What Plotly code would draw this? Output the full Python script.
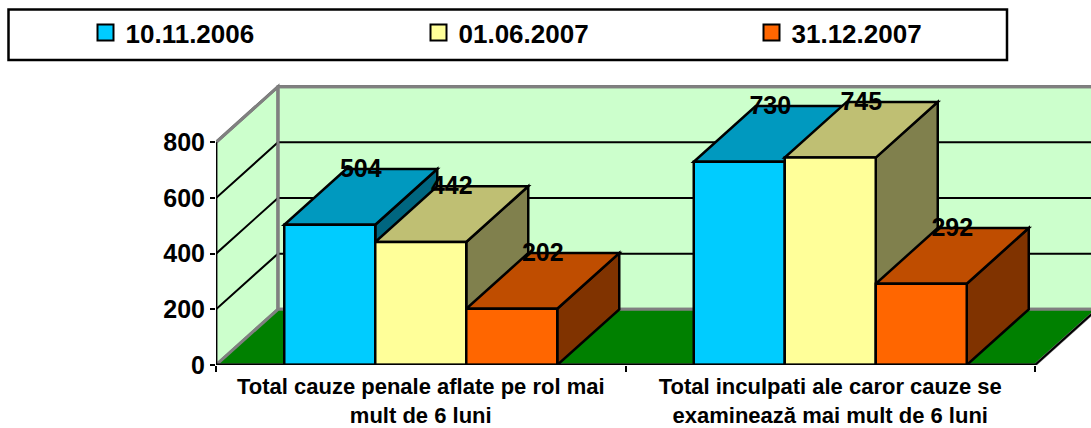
import plotly.graph_objects as go

categories = ["Total cauze penale aflate pe rol mai<br>mult de 6 luni",
              "Total inculpati ale caror cauze se<br>examinează mai mult de 6 luni"]
series_names = ["10.11.2006", "01.06.2007", "31.12.2007"]
values_a = [504, 730]
values_b = [442, 745]
values_c = [202, 292]
series_values = [values_a, values_b, values_c]
front = ["#00CCFF", "#FFFF99", "#FF6600"]
top = ["#0099BF", "#BFBF73", "#BF4D00"]
side = ["#006680", "#80804D", "#803300"]
y_ticks = [0, 200, 400, 600, 800]

FONT = "Liberation Sans"
W, H = 1091, 428
L, B_PX, T = 216, 365, 70
PX_X = 409.5
PX_Y = 222.7 / 800
DX, DY = 62 / PX_X, 200
BW = 91 / PX_X
xmax = (W - L) / PX_X
ymax = (B_PX - T) / PX_Y
centers = [0.5, 1.5]


def poly(pts, fill=None, color="black", width=2):
    path = "M" + " L".join(f"{x},{y}" for x, y in pts) + (" Z" if fill else "")
    return dict(type="path", path=path, xref="x", yref="y", layer="below",
                fillcolor=fill or "rgba(0,0,0,0)",
                line=dict(color=color, width=width))


shapes = []
# walls and floor
shapes.append(poly([(0, 0), (0, 800), (DX, 800 + DY), (DX, DY)], "#CCFFCC", "#808080", 3))
shapes.append(poly([(DX, DY), (DX, 800 + DY), (2 + DX, 800 + DY), (2 + DX, DY)], "#CCFFCC", "#808080", 3))
shapes.append(poly([(0, 0), (2, 0), (2 + DX, DY), (DX, DY)], "#008000", "#808080", 3))
shapes.append(poly([(2, 0), (2 + DX, DY)], None, "black", 2))
# gridlines
for t in y_ticks[1:-1] + [800]:
    shapes.append(poly([(0, t), (DX, t + DY), (2 + DX, t + DY)], None, "black", 2))
shapes.append(poly([(0, 800), (DX, 800 + DY), (2 + DX, 800 + DY)], None, "#808080", 3))
shapes.append(poly([(DX, DY), (DX, 800 + DY)], None, "#808080", 3))
# depth faces of the bars, painted left to right
for g, c in enumerate(centers):
    for i, vals in enumerate(series_values):
        x0 = c - 1.5 * BW + i * BW
        x1 = x0 + BW
        v = vals[g]
        shapes.append(poly([(x1, 0), (x1, v), (x1 + DX, v + DY), (x1 + DX, DY)], side[i], "black", 2.5))
        shapes.append(poly([(x0, v), (x1, v), (x1 + DX, v + DY), (x0 + DX, v + DY)], top[i], "black", 2.5))

# legend frame
px = lambda p: (p - L) / (W - L)
py = lambda p: (B_PX - p) / (B_PX - T)
shapes.append(dict(type="rect", xref="paper", yref="paper",
                   x0=px(8.5), x1=px(1007), y0=py(60), y1=py(9.5),
                   fillcolor="white", line=dict(color="black", width=2.5)))

fig = go.Figure()
for i, name in enumerate(series_names):
    fig.add_trace(go.Bar(x=centers, y=series_values[i], width=BW,
                         offset=-1.5 * BW + i * BW, name=name, showlegend=False,
                         marker=dict(color=front[i], line=dict(color="black", width=2.5))))
# axis lines
fig.add_trace(go.Scatter(x=[0, 0], y=[0, 800], mode="lines", showlegend=False, hoverinfo="skip",
                         line=dict(color="black", width=2.5), cliponaxis=False))
fig.add_trace(go.Scatter(x=[0, 2], y=[0, 0], mode="lines", showlegend=False, hoverinfo="skip",
                         line=dict(color="black", width=3), cliponaxis=False))
# value labels at the back top edge of each bar
for i, vals in enumerate(series_values):
    fig.add_trace(go.Scatter(
        x=[c - 1.5 * BW + (i + 0.5) * BW + DX / 2 for c in centers],
        y=[v + DY - 7 for v in vals],
        mode="text", text=[str(v) for v in vals], textposition="middle center",
        textfont=dict(family=FONT, size=25, color="black", weight="bold"),
        showlegend=False, hoverinfo="skip", cliponaxis=False))
# legend entries
for i, name in enumerate(series_names):
    fig.add_trace(go.Scatter(x=[None], y=[None], mode="markers", name=name,
                             marker=dict(symbol="square", size=16, color=front[i],
                                         line=dict(color="black", width=2))))

fig.update_layout(
    width=W, height=H, barmode="overlay",
    margin=dict(l=L, r=0, t=T, b=H - B_PX, pad=0, autoexpand=False),
    paper_bgcolor="white", plot_bgcolor="white",
    font=dict(family=FONT, color="black"),
    shapes=shapes,
    legend=dict(orientation="h", x=px(85.5), y=py(32.5), xanchor="left", yanchor="middle",
                bgcolor="rgba(0,0,0,0)", borderwidth=0,
                entrywidth=288, entrywidthmode="pixels",
                font=dict(family=FONT, size=26, color="black", weight="bold"),
                itemclick=False, itemdoubleclick=False),
    xaxis=dict(range=[0, xmax], tickmode="array", tickvals=centers, ticktext=categories,
               ticks="", showgrid=False, zeroline=False, showline=False, tickangle=0,
               ticklabelstandoff=6,
               tickfont=dict(family=FONT, size=22, color="black", weight="bold"),
               minor=dict(tickmode="array", tickvals=[0, 1, 2], ticks="outside", ticklen=6,
                          tickwidth=2, tickcolor="black", showgrid=False)),
    yaxis=dict(range=[0, ymax], tickmode="array", tickvals=y_ticks, ticks="outside",
               ticklen=5, tickwidth=2, tickcolor="black", showgrid=False, zeroline=False,
               showline=False,
               tickfont=dict(family=FONT, size=25, color="black", weight="bold")),
)
fig.write_html("out.html", config={"displayModeBar": False},
               post_script="document.body.style.margin='0';")
